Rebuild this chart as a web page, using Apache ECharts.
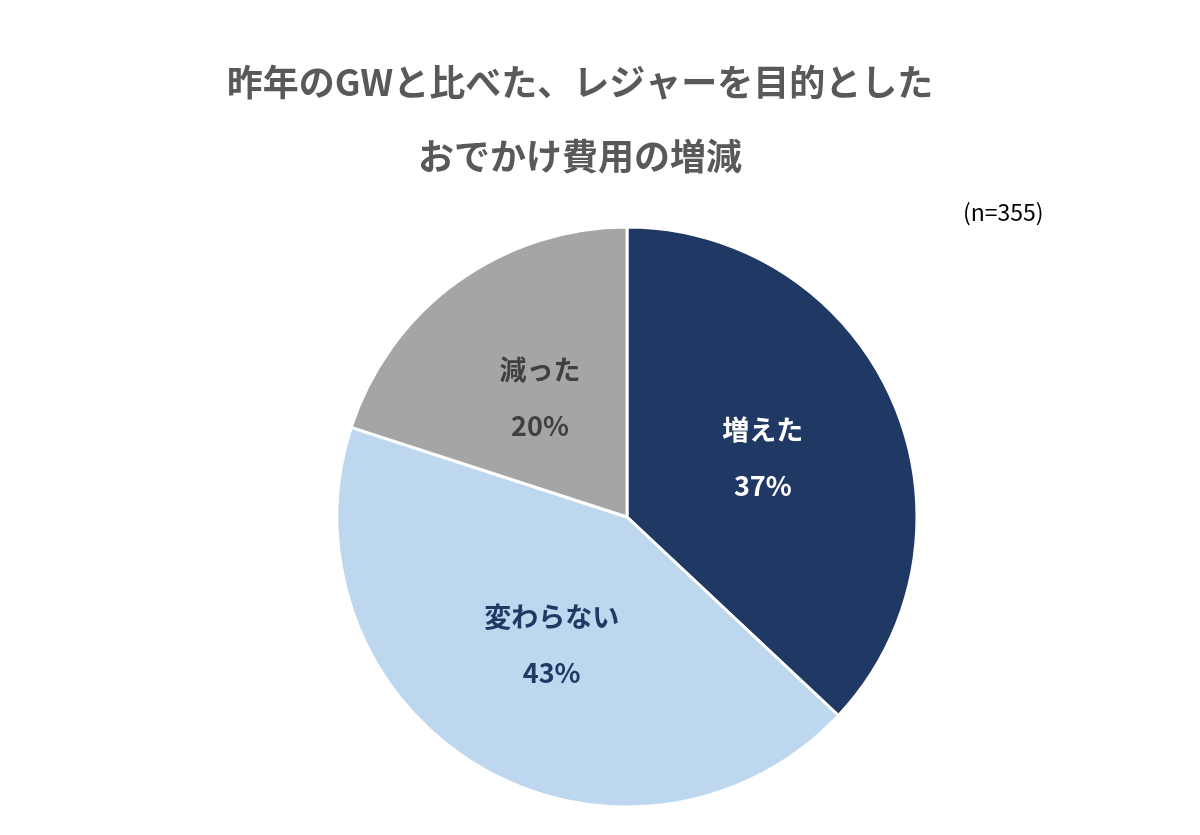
<!DOCTYPE html>
<html>
<head>
<meta charset="utf-8">
<script src="https://cdn.jsdelivr.net/npm/echarts@6/dist/echarts.min.js"></script>
<style>html,body{margin:0;padding:0;background:#fff}#main{width:1200px;height:835px}</style>
</head>
<body>
<div id="main"></div>
<script>
var categories = ['増えた', '変わらない', '減った'];
var values = [37, 43, 20];
var colors = ['#203864', '#BDD7EE', '#A5A5A5'];
var labelColors = ['#ffffff', '#203864', '#404040'];

var chart = echarts.init(document.getElementById('main'));
var option = {
    textStyle: {fontFamily: 'Noto Sans CJK JP'},
    title: [{
        text: '昨年のGWと比べた、レジャーを目的とした\nおでかけ費用の増減',
        left: 575,
        top: 40,
        textAlign: 'center',
        textStyle: {color: '#595959', fontSize: 36, fontWeight: 'bold', lineHeight: 74, fontFamily: 'Noto Sans CJK JP'}
    }, {
        text: '(n=355)',
        left: 958,
        top: 196,
        textStyle: {color: '#000', fontSize: 23, fontWeight: 'normal', fontFamily: 'Noto Sans CJK JP'}
    }],
    series: [{
        type: 'pie',
        center: [627, 517],
        radius: 290,
        startAngle: 90,
        clockwise: true,
        itemStyle: {borderColor: '#fff', borderWidth: 3},
        label: {
            position: 'inner',
            formatter: '{b}\n{c}%',
            fontSize: 27,
            fontWeight: 'bold',
            lineHeight: 56
        },
        labelLine: {show: false},
        data: categories.map(function (c, i) {
            return {
                name: c, value: values[i],
                itemStyle: {color: colors[i]},
                label: {color: labelColors[i]}
            };
        })
    }]
};
chart.setOption(option);
</script>
</body>
</html>
